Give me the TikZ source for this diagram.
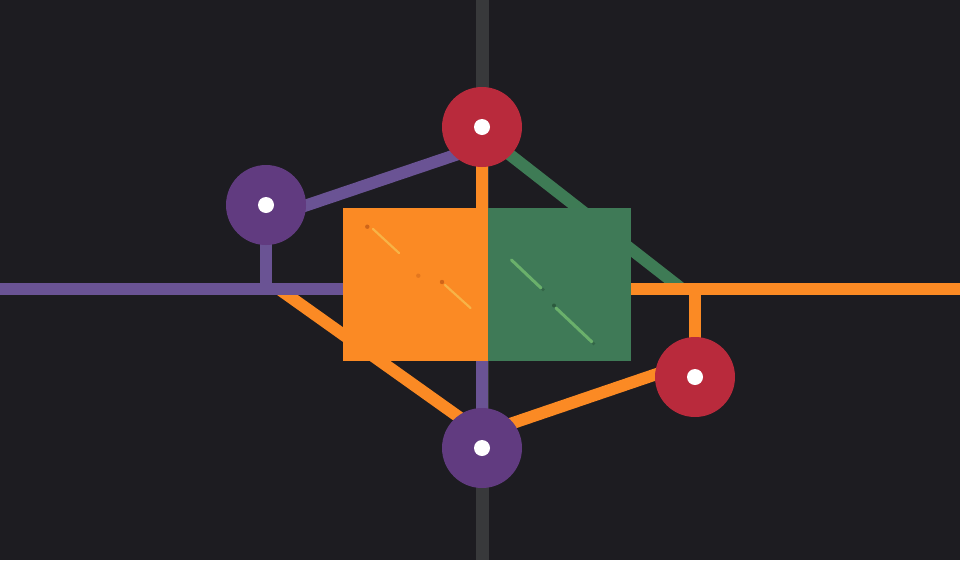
\documentclass[tikz,border=0pt]{standalone}
\usepackage{tikz}
\definecolor{bg}{HTML}{1D1C21}
\definecolor{grayline}{HTML}{38393B}
\definecolor{cred}{HTML}{B92A3C}
\definecolor{cpurple}{HTML}{613B80}
\definecolor{lpurple}{HTML}{6A5394}
\definecolor{corange}{HTML}{FB8A24}
\definecolor{cgreen}{HTML}{3F7A57}
\definecolor{lgreen}{HTML}{3E7B55}
\definecolor{olight}{HTML}{F7B347}
\definecolor{odark}{HTML}{CF6519}
\definecolor{glight}{HTML}{6AB06B}
\definecolor{gdark}{HTML}{2C5A3E}
\tikzset{
  wire/.style={line width=12pt, line cap=butt},
  pwire/.style={wire, draw=lpurple},
  owire/.style={wire, draw=corange},
  gwire/.style={wire, draw=lgreen},
  hub/.style={circle, inner sep=0pt, minimum size=80pt, draw=none,
    path picture={\fill[white] (path picture bounding box.center) circle (8pt);}},
  block/.style={rectangle, inner sep=0pt, draw=none, anchor=north west},
  glint/.style={line width=2.2pt, line cap=round},
}
\begin{document}
\begin{tikzpicture}[x=1pt,y=-1pt]
\fill[bg] (0,0) rectangle (960,560);
\useasboundingbox (0,0) rectangle (960,560);
% coordinates
\coordinate (gtop) at (482.5,0);
\coordinate (gbot) at (482.5,560);
\coordinate (lw) at (0,289);
\coordinate (lwe) at (343,289);
\coordinate (lvj) at (266,295);
\coordinate (re) at (960,289);
\coordinate (rw) at (630,289);
\coordinate (rvj) at (695,283);
\coordinate (pA) at (266,219);
\coordinate (pB) at (482,146);
\coordinate (gA) at (482,133);
\coordinate (gB) at (682,289);
\coordinate (oA) at (279,289);
\coordinate (oM) at (482,433.5);
\coordinate (oB) at (695,361);
\coordinate (ov1) at (482,160);
\coordinate (ov2) at (482,215);
\coordinate (pv1) at (482,355);
\coordinate (pv2) at (482,420);
% vertical gray axis
\draw[line width=13pt, draw=grayline] (gtop) -- (gbot);
% hubs (placed first so connectors can reference them; drawn later on top)
\path (266,205) coordinate (hl);
\path (482,127) coordinate (ht);
\path (482,448) coordinate (hb);
\path (695,377) coordinate (hr);
% connectors
\draw[gwire] (gA) -- (gB);
\draw[owire] (oA) -- (oM) -- (oB);
\draw[pwire] (lw) -- (lwe);
\draw[pwire] (hl) -- (lvj);
\draw[pwire] (pA) -- (pB);
\draw[owire] (ov1) -- (ov2);
\draw[pwire] (pv1) -- (pv2);
\draw[owire] (rw) -- (re);
\draw[owire] (rvj) -- (hr);
% blocks
\node[block, fill=corange, minimum width=145pt, minimum height=153pt] (ob) at (343,208) {};
\node[block, fill=cgreen, minimum width=142.5pt, minimum height=153pt] (gb) at (488,208) {};
% glints in orange block
\draw[glint, draw=olight] (373,229) -- (399,253);
\draw[glint, draw=olight] (445,285) -- (470.5,308);
\fill[odark] (367.3,226.7) circle (2.2pt);
\fill[odark, opacity=0.5] (418.3,275.7) circle (2.2pt);
\fill[odark] (442,282) circle (2.2pt);
% glints in green block
\draw[line width=3pt, line cap=round, draw=glight] (511.5,260) -- (541,288);
\draw[line width=3pt, line cap=round, draw=glight] (556,308) -- (592,342);
\fill[gdark] (554,305.5) circle (2pt);
\fill[gdark, opacity=0.6] (543,289.5) circle (1.8pt);
\fill[gdark, opacity=0.6] (593.5,343.5) circle (1.8pt);
% hubs
\node[hub, fill=cpurple] (lc) at (hl) {};
\node[hub, fill=cred] (tc) at (ht) {};
\node[hub, fill=cpurple] (bc) at (hb) {};
\node[hub, fill=cred] (rc) at (hr) {};
\end{tikzpicture}
\end{document}
